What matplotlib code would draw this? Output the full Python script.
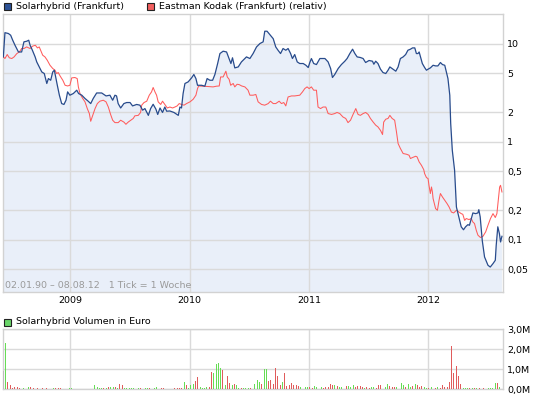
import matplotlib
matplotlib.use("Agg")
import matplotlib.pyplot as plt
import numpy as np
import pandas as pd
from matplotlib.patches import Rectangle

# ---------------- data ----------------
START = "2008-06-10"          # week 0 (1 Tick = 1 Woche)
YEARS = ["2009", "2010", "2011", "2012"]
PRICE_TICKS = [0.05, 0.1, 0.2, 0.5, 1, 2, 5, 10]
PRICE_LABELS = ["0,05", "0,1", "0,2", "0,5", "1", "2", "5", "10"]
VOL_TICKS = [0, 1, 2, 3]
VOL_LABELS = ["0,0M", "1,0M", "2,0M", "3,0M"]

# (week, price)
SOLAR = [(0.0,7.3),(0.7,12.9),(2.2,12.65),(3.2,12.15),(4.1,10.8),(5.1,9.6),(6.6,8.2),(8.0,8.2),
 (9.0,10.4),(10.2,10.55),(11.1,10.8),(11.7,9.6),(12.7,8.54),(13.9,7.3),(14.6,6.49),(15.7,5.77),
 (16.8,5.13),(17.9,4.94),(19.0,3.91),(19.7,4.39),(20.7,4.22),(21.6,5.13),(22.3,5.34),(23.0,4.39),
 (23.6,3.75),(24.5,2.97),(25.5,2.44),(26.5,2.39),(27.4,2.64),(28.1,3.21),(29.1,2.97),(30.6,3.09),
 (32.1,3.34),(32.9,3.09),(34.3,2.97),(35.7,2.75),(37.1,2.58),(38.2,2.44),(39.3,2.75),(40.8,3.13),
 (43.0,3.13),(44.9,2.92),(46.6,2.97),(47.8,2.64),(48.8,2.97),(49.5,2.92),(50.2,2.44),(51.3,2.2),
 (52.7,2.44),(53.9,2.5),(55.4,2.5),(56.5,2.31),(58.3,2.39),(59.7,2.35),(60.9,2.09),(61.9,2.17),
 (63.4,1.85),(64.4,2.17),(65.5,2.4),(66.7,2.14),(67.5,1.89),(68.5,2.2),(69.6,1.98),(70.6,2.25),
 (71.4,2.04),(72.8,2.05),(74.6,1.98),(76.5,1.85),(77.2,2.25),(77.9,2.2),(78.6,3.09),(79.4,3.91),
 (80.8,4.06),(82.3,4.46),(83.3,4.83),(84.2,4.39),(84.9,3.75),(86.7,3.75),(88.1,3.67),(89.1,4.39),
 (90.3,4.22),(91.5,4.22),(92.5,4.83),(93.7,6.25),(94.7,7.9),(96.1,8.35),(97.6,8.2),(98.7,7.03),
 (99.5,6.25),(100.2,7.15),(101.2,5.64),(102.7,5.77),(104.1,6.49),(105.6,7.03),(106.3,7.3),(107.8,7.03),
 (109.2,7.9),(110.7,9.23),(112.2,10.0),(113.6,10.4),(114.3,13.35),(115.3,13.35),(116.5,12.35),(118.0,11.2),
 (119.1,9.23),(120.1,8.54),(121.2,7.9),(122.3,8.89),(123.5,8.54),(124.5,8.89),(125.6,7.9),(126.4,7.03),
 (127.4,7.72),(128.5,6.49),(129.6,6.25),(131.1,6.25),(132.3,6.0),(133.3,5.69),(134.0,6.4),(134.7,7.03),
 (135.7,6.25),(136.9,6.1),(138.4,7.03),(140.6,7.03),(142.0,6.49),(143.1,5.56),(143.9,4.5),(144.9,4.83),
 (146.4,5.56),(147.8,6.1),(149.3,6.6),(150.3,7.03),(151.5,7.9),(152.7,8.75),(153.7,7.9),(154.7,7.3),
 (156.1,7.2),(157.3,7.03),(158.4,6.4),(159.9,6.71),(161.4,6.6),(162.0,6.15),(162.8,6.6),(163.8,6.25),
 (164.9,5.47),(166.0,5.06),(167.2,4.94),(168.2,5.34),(169.0,5.77),(170.4,5.47),(171.6,5.22),(172.6,5.77),
 (173.6,7.03),(174.8,7.3),(175.9,7.72),(176.9,8.54),(178.0,8.75),(178.9,9.02),(179.9,9.02),(180.6,7.9),
 (181.3,7.9),(181.8,8.2),(182.4,7.3),(183.2,6.25),(184.2,5.69),(185.0,5.34),(185.7,5.47),(186.7,5.64),
 (187.9,6.0),(189.0,5.91),(190.0,5.91),(191.1,6.4),(192.0,6.1),(193.0,6.0),(193.7,5.13),(194.4,4.39),
 (195.2,2.97),(195.6,1.53),(196.3,0.815),(197.3,0.51),(198.1,0.215),(198.8,0.184),(199.5,0.157),(200.2,0.135),
 (201.2,0.126),(202.1,0.135),(203.1,0.142),(203.8,0.14),(204.6,0.164),(205.3,0.187),(206.5,0.184),(207.5,0.187),
 (207.9,0.202),(208.5,0.17),(209.4,0.098),(210.4,0.0665),(211.9,0.0547),(212.9,0.0525),(214.1,0.0569),(215.1,0.0615),
 (215.5,0.0875),(216.2,0.135),(216.9,0.115),(217.4,0.0946),(218.0,0.108)]

KODAK = [(0.0,7.3),(0.7,7.03),(1.7,7.72),(2.6,7.15),(3.7,7.03),(4.7,7.3),(5.9,7.9),(7.0,8.2),(8.0,8.89),
 (9.0,8.89),(10.2,9.23),(11.7,8.89),(12.8,9.4),(14.0,9.6),(14.9,9.02),(15.7,9.23),(16.3,8.54),(17.2,7.6),
 (18.2,7.3),(19.2,6.75),(20.4,6.0),(21.6,5.56),(22.6,5.34),(23.3,4.94),(24.0,5.06),(24.8,4.67),(26.0,4.22),
 (27.0,3.75),(28.1,3.69),(29.1,3.75),(29.9,4.46),(31.3,4.5),(32.3,4.39),(32.8,3.61),(33.5,3.09),(34.7,2.75),
 (35.7,2.54),(36.7,2.17),(37.6,1.93),(38.2,1.61),(39.1,1.85),(40.1,2.17),(41.1,2.44),(42.2,2.58),(43.7,2.64),
 (44.9,2.54),(45.9,2.25),(46.9,1.89),(47.8,1.65),(48.8,1.56),(50.2,1.56),(51.3,1.65),(52.7,1.58),(53.6,1.5),
 (54.6,1.58),(55.7,1.65),(56.8,1.72),(57.5,1.83),(59.0,1.85),(60.0,1.98),(60.5,2.35),(61.5,2.5),(62.7,2.58),
 (63.8,2.97),(64.8,3.21),(65.5,3.56),(66.3,3.21),(67.0,2.97),(67.7,2.54),(68.8,2.39),(69.6,2.58),(70.6,2.39),
 (71.7,2.2),(72.8,2.25),(74.0,2.2),(75.0,2.25),(76.0,2.31),(76.9,2.44),(77.9,2.39),(79.0,2.35),(80.1,2.44),
 (81.6,2.54),(83.0,2.7),(84.2,2.97),(84.9,3.47),(85.4,3.69),(87.4,3.67),(89.6,3.64),(91.7,3.61),(93.2,3.67),
 (94.4,3.69),(95.0,4.56),(96.1,4.56),(97.3,5.22),(97.9,4.56),(98.7,4.32),(99.4,3.75),(100.5,3.91),(101.2,3.61),
 (102.2,3.84),(103.1,3.81),(104.2,3.69),(105.6,3.61),(107.0,3.34),(107.8,2.97),(109.2,2.97),(110.4,3.02),
 (111.4,2.54),(112.9,2.39),(114.3,2.35),(115.8,2.44),(116.8,2.58),(118.0,2.44),(119.1,2.44),(120.6,2.58),
 (121.6,2.44),(122.6,2.5),(123.5,2.31),(124.5,2.85),(126.0,2.92),(127.4,2.92),(129.6,2.97),(130.8,3.21),
 (131.8,3.47),(132.8,3.61),(133.7,3.47),(134.7,3.61),(135.7,3.34),(136.9,3.34),(137.6,2.25),(138.7,2.17),
 (139.8,2.25),(141.0,2.25),(142.0,1.93),(143.5,1.89),(144.9,1.93),(145.9,1.98),(147.1,1.93),(148.5,1.78),
 (149.7,1.72),(150.7,1.56),(151.8,1.65),(152.9,1.89),(154.1,2.17),(155.1,1.89),(156.1,1.85),(157.3,1.93),
 (158.4,1.98),(159.5,1.89),(160.5,1.72),(161.7,1.58),(162.8,1.47),(163.8,1.41),(164.9,1.30),(165.8,1.18),
 (166.3,1.58),(167.2,1.69),(168.2,1.72),(169.0,1.85),(170.0,1.72),(171.1,1.65),(171.9,1.25),(172.6,0.955),
 (173.6,0.85),(174.8,0.755),(176.3,0.742),(177.4,0.725),(178.0,0.671),(178.9,0.687),(180.3,0.708),(180.9,0.697),
 (181.8,0.62),(182.8,0.573),(183.8,0.518),(184.2,0.471),(185.0,0.429),(185.7,0.419),(186.1,0.358),(186.7,0.295),
 (187.2,0.344),(187.6,0.306),(187.9,0.262),(189.0,0.207),(189.8,0.199),(190.5,0.252),(191.1,0.295),(192.0,0.272),
 (193.0,0.252),(194.0,0.233),(194.9,0.215),(195.9,0.191),(196.9,0.187),(198.1,0.199),(199.2,0.191),(200.2,0.184),
 (200.9,0.181),(201.7,0.157),(202.4,0.164),(203.6,0.16),(204.6,0.164),(205.3,0.151),(206.0,0.146),(206.8,0.124),
 (207.5,0.111),(208.6,0.105),(209.7,0.108),(210.9,0.12),(211.9,0.14),(213.0,0.164),(214.1,0.184),(215.1,0.168),
 (215.8,0.184),(216.4,0.252),(217.0,0.344),(217.4,0.358),(218.0,0.306)]

# (week, volume in million EUR, direction: g = up, r = down, n = neutral)
VOLUME = [(0,0.93,'n'),(1,2.33,'g'),(2,0.37,'r'),(3,0.22,'r'),(4,0.08,'r'),(5,0.13,'r'),(6,0.13,'r'),(7,0.08,'r'),
 (9,0.05,'g'),(11,0.13,'g'),(12,0.13,'r'),(13,0.08,'r'),(15,0.08,'r'),(17,0.08,'r'),(19,0.08,'r'),
 (22,0.08,'g'),(23,0.08,'r'),(24,0.08,'r'),(25,0.08,'r'),(29,0.05,'g'),(30,0.05,'g'),
 (40,0.2,'g'),(41,0.13,'g'),(42,0.08,'g'),(43,0.08,'g'),(44,0.08,'r'),(45,0.08,'g'),(46,0.13,'r'),(47,0.13,'g'),
 (48,0.13,'g'),(49,0.13,'r'),(50,0.08,'g'),(51,0.27,'r'),(52,0.22,'r'),(53,0.08,'g'),(54,0.08,'g'),(55,0.08,'g'),
 (56,0.08,'g'),(57,0.08,'g'),(58,0.08,'r'),(59,0.08,'g'),(60,0.08,'r'),(62,0.08,'g'),(63,0.08,'g'),(64,0.08,'r'),
 (65,0.08,'r'),(66,0.08,'g'),(67,0.13,'g'),(69,0.08,'r'),(70,0.08,'r'),(75,0.05,'r'),(76,0.05,'r'),(77,0.05,'r'),
 (78,0.05,'r'),(79,0.37,'g'),(80,0.2,'r'),(81,0.05,'g'),(82,0.22,'g'),(83,0.27,'g'),(84,0.42,'r'),(85,0.63,'r'),
 (86,0.13,'g'),(87,0.05,'g'),(88,0.05,'g'),(89,0.13,'g'),(90,0.13,'r'),(91,0.87,'r'),(92,0.82,'g'),(93,1.27,'g'),
 (94,1.33,'g'),(95,1.07,'g'),(96,0.97,'r'),(97,0.23,'g'),(98,0.68,'r'),(99,0.3,'r'),(100,0.2,'g'),(101,0.27,'r'),
 (102,0.2,'g'),(103,0.05,'g'),(104,0.05,'r'),(105,0.08,'g'),(106,0.05,'g'),(107,0.05,'g'),(108,0.05,'r'),
 (110,0.27,'g'),(111,0.47,'g'),(112,0.39,'g'),(113,0.27,'r'),(114,1.0,'g'),(115,1.0,'g'),(116,0.44,'r'),
 (117,0.47,'r'),(118,0.27,'r'),(119,1.06,'r'),(120,0.67,'r'),(121,0.22,'r'),(122,0.39,'g'),(123,0.84,'r'),
 (124,0.17,'r'),(125,0.22,'r'),(126,0.34,'r'),(127,0.22,'r'),(128,0.22,'r'),(129,0.17,'r'),(130,0.1,'g'),
 (132,0.1,'g'),(133,0.1,'g'),(134,0.1,'r'),(135,0.08,'r'),(136,0.15,'g'),(137,0.12,'g'),(139,0.1,'g'),
 (140,0.08,'r'),(141,0.1,'r'),(142,0.12,'r'),(143,0.25,'r'),(144,0.22,'r'),(145,0.2,'g'),(146,0.15,'r'),
 (147,0.12,'g'),(148,0.1,'g'),(150,0.15,'r'),(151,0.15,'g'),(152,0.12,'g'),(153,0.2,'g'),(154,0.12,'r'),
 (155,0.15,'r'),(156,0.15,'r'),(157,0.12,'r'),(158,0.08,'g'),(159,0.1,'r'),(160,0.08,'r'),(161,0.1,'g'),
 (162,0.1,'g'),(163,0.08,'r'),(164,0.2,'r'),(165,0.2,'r'),(166,0.15,'g'),(167,0.1,'g'),(168,0.25,'g'),
 (169,0.15,'r'),(170,0.1,'r'),(171,0.1,'r'),(172,0.1,'g'),(174,0.3,'g'),(175,0.2,'g'),(176,0.12,'r'),
 (177,0.25,'g'),(178,0.12,'g'),(179,0.15,'r'),(180,0.25,'g'),(181,0.2,'r'),(182,0.12,'r'),(183,0.15,'r'),
 (184,0.1,'g'),(185,0.08,'g'),(186,0.05,'r'),(187,0.1,'g'),(189,0.05,'r'),(190,0.1,'g'),(191,0.05,'r'),
 (192,0.2,'r'),(193,0.13,'r'),(194,0.13,'r'),(195,0.39,'r'),(196,2.19,'r'),(197,0.84,'r'),(198,1.15,'r'),
 (199,0.67,'r'),(200,0.27,'r'),(201,0.08,'g'),(202,0.05,'g'),(203,0.08,'g'),(204,0.05,'r'),(205,0.05,'g'),
 (206,0.08,'r'),(207,0.05,'g'),(208,0.05,'r'),(210,0.05,'r'),(212,0.05,'g'),(213,0.08,'g'),(214,0.05,'g'),
 (215,0.34,'g'),(216,0.34,'r'),(217,0.13,'g')]

# ---------------- styling ----------------
BLUE = "#284b8c"
RED = "#ff5c5c"
FILL = "#e9eff9"
GRID = "#dadada"
SPINE = "#d2d2d2"
BAR_COLORS = {"g": "#66dd55", "r": "#e05c5c", "n": "#bdbdbd"}
FS = 6.8
W, H = 545, 398


def to_dates(weeks):
    return pd.Timestamp(START) + pd.to_timedelta(np.asarray(weeks, dtype=float) * 7, unit="D")


def fx(px):
    return px / W


def fy(py):
    return 1 - py / H


fig = plt.figure(figsize=(W / 100, H / 100), dpi=100)
fig.patch.set_facecolor("white")

ax = fig.add_axes([fx(3), fy(292), fx(503.3) - fx(3), fy(14) - fy(292)])
axv = fig.add_axes([fx(3), fy(389.3), fx(503.3) - fx(3), fy(329.3) - fy(389.3)])

xmin = to_dates([-0.15])[0]
xmax = to_dates([218.6])[0]
year_dates = [pd.Timestamp(y + "-01-01") for y in YEARS]

# price panel
sw, sv = zip(*SOLAR)
kw, kv = zip(*KODAK)
sd = to_dates(sw)
kd = to_dates(kw)

ax.set_yscale("log")
ax.set_ylim(0.0292, 20.0)
ax.set_xlim(xmin, xmax)
ax.fill_between(sd, sv, 1e-4, color=FILL, lw=0, zorder=1)
ax.plot(kd, kv, color=RED, lw=0.75, zorder=3)
ax.plot(sd, sv, color=BLUE, lw=0.9, zorder=4)

ax.set_yticks(PRICE_TICKS)
ax.set_yticklabels(PRICE_LABELS)
ax.yaxis.set_minor_locator(matplotlib.ticker.NullLocator())
ax.yaxis.tick_right()
ax.set_xticks(year_dates)
ax.set_xticklabels(YEARS)
ax.tick_params(axis="both", length=0, labelsize=FS, colors="black")
ax.tick_params(axis="y", pad=2.8)
ax.tick_params(axis="x", pad=3.0)
ax.grid(True, color=GRID, lw=1.0, zorder=1.5)
for s in ax.spines.values():
    s.set_color(SPINE)
    s.set_linewidth(1.0)

ax.text(0.003, 0.006, "02.01.90 \u2013 08.08.12   1 Tick = 1 Woche", transform=ax.transAxes,
        fontsize=FS, color="#9a9a9a", ha="left", va="bottom", zorder=5)

# volume panel
vw, vv, vc = zip(*VOLUME)
vd = to_dates(vw)
axv.bar(vd, vv, width=3.0, color=[BAR_COLORS[c] for c in vc], lw=0, zorder=3)
axv.set_xlim(xmin, xmax)
axv.set_ylim(0, 3)
axv.set_yticks(VOL_TICKS)
axv.set_yticklabels(VOL_LABELS)
axv.yaxis.tick_right()
axv.set_xticks(year_dates)
axv.set_xticklabels([])
axv.tick_params(axis="both", length=0, labelsize=FS, colors="black")
axv.tick_params(axis="y", pad=2.8)
axv.grid(True, color=GRID, lw=1.0, zorder=1)
axv.set_axisbelow(True)
for s in axv.spines.values():
    s.set_color(SPINE)
    s.set_linewidth(1.0)

# legends
def legend_item(px, py, color, label):
    fig.patches.append(Rectangle((fx(px), fy(py + 7)), fx(7), 7 / H, transform=fig.transFigure,
                                 facecolor=color, edgecolor="#222222", lw=0.8))
    fig.text(fx(px + 12), fy(py + 3.5), label, fontsize=FS, color="black", ha="left", va="center")


legend_item(3.5, 2.8, "#2d5296", "Solarhybrid (Frankfurt)")
legend_item(146.7, 2.8, "#f25f5f", "Eastman Kodak (Frankfurt) (relativ)")
legend_item(3.5, 318.5, "#6ad66a", "Solarhybrid Volumen in Euro")

fig.savefig("out.png", dpi=100)
